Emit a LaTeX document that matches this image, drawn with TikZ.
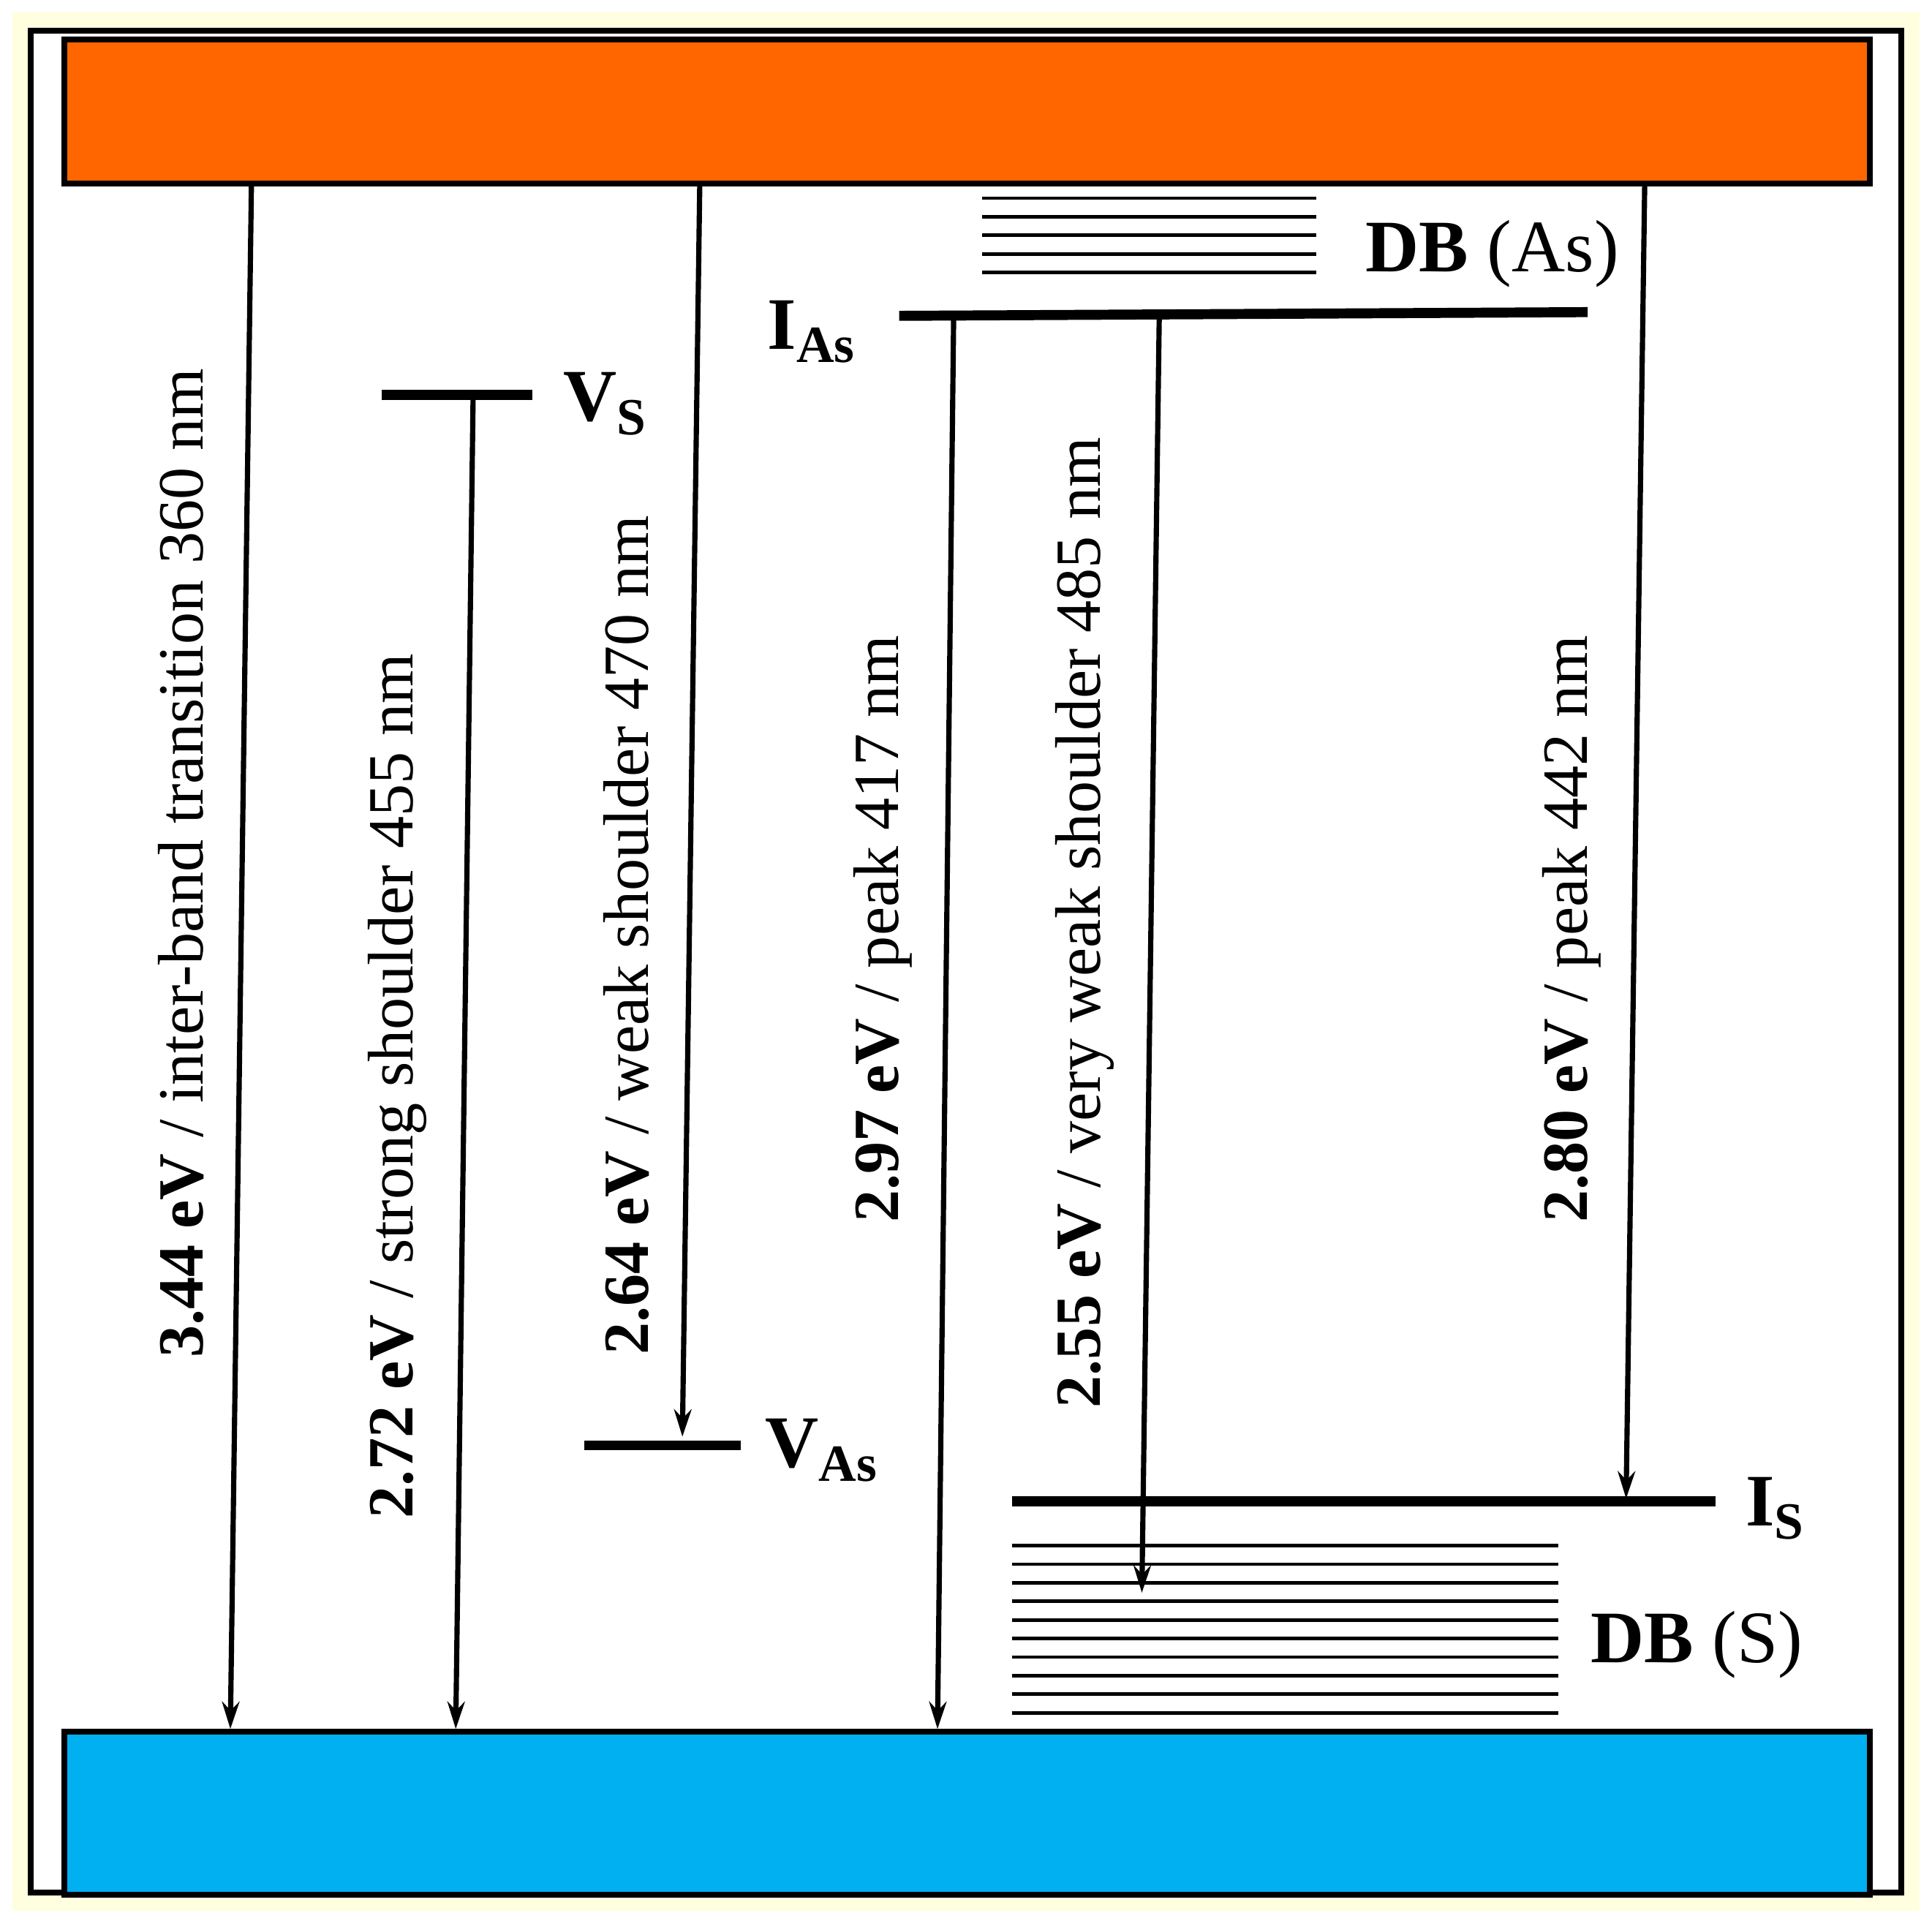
\documentclass[tikz,border=0pt]{standalone}
\usepackage{fontspec}
\setmainfont{Liberation Serif}
\usetikzlibrary{arrows.meta}
\definecolor{cream}{RGB}{255,255,224}
\definecolor{cb}{RGB}{255,102,0}
\definecolor{vb}{RGB}{0,176,240}
\newcommand{\sub}[1]{\raisebox{-0.4ex}{\fontsize{12}{12}\selectfont #1}}
\tikzset{
 band/.style={draw=black,line width=1.35pt},
 tr/.style={line width=1.2pt,-{Stealth[length=0.22cm,width=0.14cm]}},
 lvl/.style={line width=2.3pt},
 thin/.style={line width=0.8pt},
 lab/.style={rotate=90,font=\fontsize{14.8}{15}\selectfont,inner sep=0pt},
 llab/.style={font=\fontsize{17}{18}\selectfont\bfseries,inner sep=0pt}
}
\begin{document}
\begin{tikzpicture}[x=0.01cm,y=-0.01cm]
\useasboundingbox (0,0) rectangle (1560,1553);
\fill[cream] (10,10) rectangle (1550,1543);
\draw[line width=1.35pt,fill=white] (25,25) rectangle (1535,1528);
\draw[band,fill=cb] (52,32) rectangle (1510,148);
\coordinate (cband) at (781,90);
\draw[band,fill=vb] (52,1398) rectangle (1510,1530);
\coordinate (vband) at (781,1464);
% levels
\coordinate (vs1) at (308,319); \coordinate (vs2) at (430,319);
\draw[lvl] (vs1) -- (vs2);
\node[llab] (vsl) at (488,326) {V\sub{S}};
\coordinate (va1) at (472,1167); \coordinate (va2) at (598,1167);
\draw[lvl] (va1) -- (va2);
\node[llab] (val) at (663,1171) {V\sub{As}};
\coordinate (ia1) at (726,255); \coordinate (ia2) at (1282,252);
\draw[lvl] (ia1) -- (ia2);
\node[llab] (ial) at (655,268) {I\sub{As}};
\coordinate (is1) at (817,1212); \coordinate (is2) at (1385,1212);
\draw[lvl] (is1) -- (is2);
\node[llab] (isl) at (1433,1218) {I\sub{S}};
\foreach \y in {160,175,190,205,220} \draw[thin] (793,\y) -- (1063,\y);
\node[llab] (dba) at (1205,205) {DB \mdseries(As)};
\foreach \y in {1248,1263,...,1383} \draw[thin] (817,\y) -- (1258,\y);
\node[llab] (dbs) at (1370,1328) {DB \mdseries(S)};
% transitions
\coordinate (a1s) at (203,150); \coordinate (a1e) at (186,1396);
\draw[tr] (a1s) -- (a1e);
\node[lab] (l1) at (146,697) {\textbf{3.44 eV} / inter-band transition 360 nm};
\coordinate (a2s) at (382,321); \coordinate (a2e) at (368,1396);
\draw[tr] (a2s) -- (a2e);
\node[lab] (l2) at (321,877) {\textbf{2.72 eV} / strong shoulder 455 nm};
\coordinate (a3s) at (565,150); \coordinate (a3e) at (551,1160);
\draw[tr] (a3s) -- (a3e);
\node[lab] (l3) at (506,755) {\textbf{2.64 eV} / weak shoulder 470 nm};
\coordinate (a4s) at (770,258); \coordinate (a4e) at (757,1396);
\draw[tr] (a4s) -- (a4e);
\node[lab] (l4) at (713,750) {\textbf{2.97 eV} / peak 417 nm};
\coordinate (a5s) at (936,258); \coordinate (a5e) at (922,1286);
\draw[tr] (a5s) -- (a5e);
\node[lab] (l5) at (876,745) {\textbf{2.55 eV} / very weak shoulder 485 nm};
\coordinate (a6s) at (1328,150); \coordinate (a6e) at (1313,1210);
\draw[tr] (a6s) -- (a6e);
\node[lab] (l6) at (1269,750) {\textbf{2.80 eV} / peak 442 nm};
\end{tikzpicture}
\end{document}
